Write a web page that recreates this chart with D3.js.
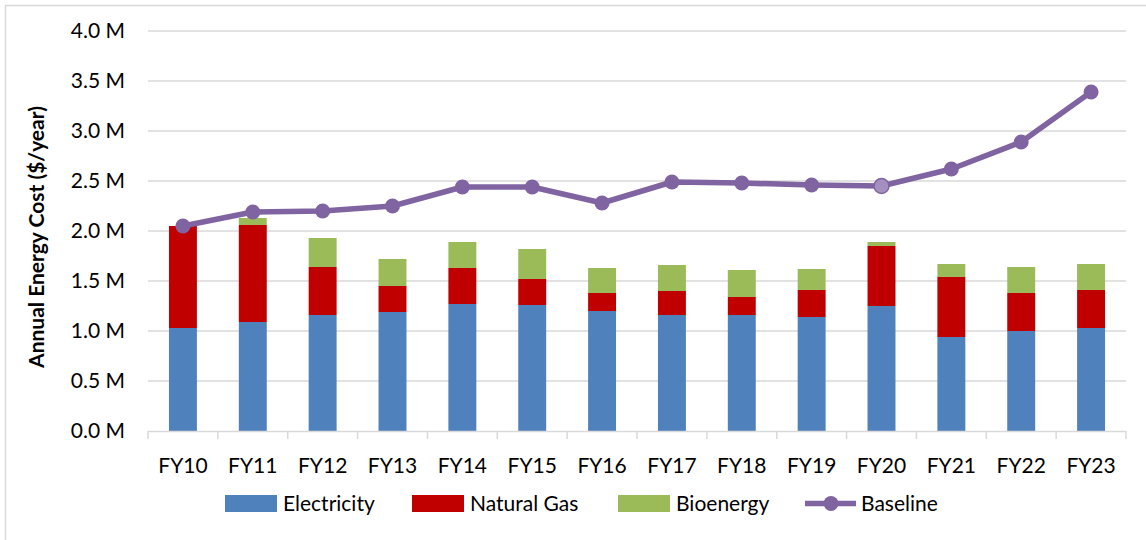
<!DOCTYPE html>
<html><head><meta charset="utf-8">
<script src="https://cdn.jsdelivr.net/npm/d3@7"></script>
<style>body{margin:0;background:#fff}svg{display:block}text{font-family:Lato,"Open Sans",sans-serif;fill:#000}</style>
</head><body><svg id="c" width="1146" height="540"></svg>
<script>
const categories=["FY10","FY11","FY12","FY13","FY14","FY15","FY16","FY17","FY18","FY19","FY20","FY21","FY22","FY23"];
const electricity=[1.03,1.09,1.16,1.19,1.27,1.26,1.20,1.16,1.16,1.14,1.25,0.94,1.00,1.03];
const naturalGas=[1.02,0.97,0.48,0.26,0.36,0.26,0.18,0.24,0.18,0.27,0.60,0.60,0.38,0.38];
const bioenergy=[0.00,0.07,0.29,0.27,0.26,0.30,0.25,0.26,0.27,0.21,0.04,0.13,0.26,0.26];
const baseline=[2.05,2.19,2.20,2.25,2.44,2.44,2.28,2.49,2.48,2.46,2.45,2.62,2.89,3.39];
const yTicks=[0,0.5,1,1.5,2,2.5,3,3.5,4];
const seriesNames=["Electricity","Natural Gas","Bioenergy"];
const colors=["#4F81BD","#C00000","#9BBB59"];
const lineColor="#8064A2";
const fs=21;

const svg=d3.select("#c");
svg.append("rect").attr("x",5.5).attr("y",5.5).attr("width",1200).attr("height",600).attr("fill","none").attr("stroke","#d9d9d9").attr("stroke-width",1.5);

const x=d3.scaleBand().domain(categories).range([148,1126]).padding(0);
const y=d3.scaleLinear().domain([0,4]).range([431,31]);
const bw=x.bandwidth()*0.4;

svg.append("g").selectAll("line").data(yTicks.filter(d=>d>0)).join("line")
 .attr("x1",148).attr("x2",1126).attr("y1",d=>y(d)).attr("y2",d=>y(d))
 .attr("stroke","#d9d9d9").attr("stroke-width",1.5);
svg.append("g").selectAll("text").data(yTicks).join("text")
 .attr("x",125).attr("y",d=>y(d)).attr("dy","0.35em").attr("text-anchor","end")
 .attr("font-size",fs).text(d=>d.toFixed(1)+" M");

const rows=categories.map((c,i)=>({cat:c,Electricity:electricity[i],"Natural Gas":naturalGas[i],Bioenergy:bioenergy[i]}));
const stack=d3.stack().keys(seriesNames)(rows);
stack.forEach((s,k)=>{
  svg.append("g").selectAll("rect").data(s).join("rect")
   .attr("x",d=>x(d.data.cat)+(x.bandwidth()-bw)/2).attr("width",bw)
   .attr("y",d=>y(d[1])).attr("height",d=>Math.max(0,y(d[0])-y(d[1])))
   .attr("fill",colors[k]);
});

svg.append("line").attr("x1",148).attr("x2",1126).attr("y1",431.5).attr("y2",431.5).attr("stroke","#d9d9d9").attr("stroke-width",1.5);
const bounds=categories.map(c=>x(c)).concat([x.range()[1]]);
svg.append("g").selectAll("line").data(bounds).join("line")
 .attr("x1",d=>d).attr("x2",d=>d).attr("y1",431).attr("y2",439).attr("stroke","#d9d9d9").attr("stroke-width",1.5);
svg.append("g").selectAll("text").data(categories).join("text")
 .attr("x",d=>x(d)+x.bandwidth()/2).attr("y",466).attr("dy","0.35em").attr("text-anchor","middle")
 .attr("font-size",fs).text(d=>d);

const line=d3.line().x((d,i)=>x(categories[i])+x.bandwidth()/2).y(d=>y(d));
svg.append("path").datum(baseline).attr("d",line).attr("fill","none").attr("stroke",lineColor).attr("stroke-width",5.5).attr("stroke-linejoin","round");
svg.append("g").selectAll("circle").data(baseline).join("circle")
 .attr("cx",(d,i)=>x(categories[i])+x.bandwidth()/2).attr("cy",d=>y(d)).attr("r",7.5)
 .attr("fill",(d,i)=>categories[i]==="FY20"?"#a48fc0":lineColor)
 .attr("stroke",(d,i)=>categories[i]==="FY20"?lineColor:"none").attr("stroke-width",1.5);

svg.append("text").attr("transform","translate(37,237) rotate(-90)").attr("text-anchor","middle").attr("dy","0.35em")
 .attr("font-size",fs).attr("font-weight","bold").text("Annual Energy Cost ($/year)");

const legX=[225,412,618];
seriesNames.forEach((n,k)=>{
  svg.append("rect").attr("x",legX[k]).attr("y",495).attr("width",52).attr("height",17).attr("fill",colors[k]);
  svg.append("text").attr("x",legX[k]+58).attr("y",503.5).attr("dy","0.35em").attr("font-size",fs).text(n);
});
svg.append("line").attr("x1",805).attr("x2",856).attr("y1",503.5).attr("y2",503.5).attr("stroke",lineColor).attr("stroke-width",5.5);
svg.append("circle").attr("cx",831).attr("cy",503.5).attr("r",7.5).attr("fill",lineColor);
svg.append("text").attr("x",861).attr("y",503.5).attr("dy","0.35em").attr("font-size",fs).text("Baseline");
</script></body></html>
